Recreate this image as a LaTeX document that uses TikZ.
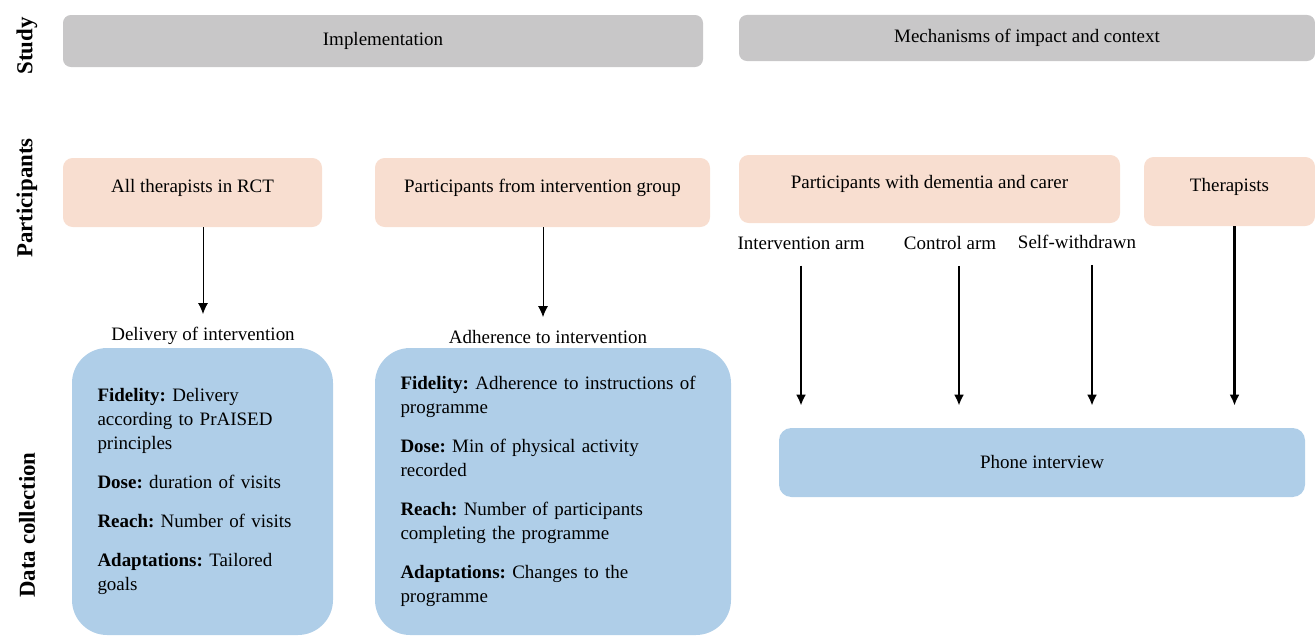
\documentclass[tikz,border=0pt]{standalone}
\usepackage{fontspec}
\setmainfont{Liberation Serif}
\usepackage{tikz}
\usetikzlibrary{arrows.meta, calc, positioning}
\definecolor{studygray}{RGB}{200,199,200}
\definecolor{partpeach}{RGB}{248,222,208}
\definecolor{datablue}{RGB}{175,206,232}
\frenchspacing
\tikzset{every node/.style={font=\fontsize{10.8}{13.6}\selectfont}}
\tikzset{rowlabel/.style={rotate=90, font=\fontsize{13}{15}\selectfont\bfseries}}
\tikzset{studybox/.style={rectangle, fill=studygray, rounded corners=4.5pt, minimum height=1.04cm}}
\tikzset{partbox/.style={rectangle, fill=partpeach, rounded corners=5.5pt, minimum height=1.38cm, text height=0.27cm, text depth=0.28cm}}
\tikzset{databox/.style={rectangle, fill=datablue, rounded corners=20pt, align=left, minimum height=5.74cm, inner xsep=0.51cm}}
\tikzset{phonebox/.style={rectangle, fill=datablue, rounded corners=7pt, minimum height=1.38cm}}
\tikzset{thinarrow/.style={line width=0.55pt, -{Latex[length=0.22cm,width=0.2cm]}, shorten >=0.14cm}}
\tikzset{thickarrow/.style={line width=1.35pt, -{Latex[length=0.22cm,width=0.2cm]}}}

\begin{document}
\begin{tikzpicture}
\useasboundingbox (0,0) rectangle (26.3,-12.7);

\node [rowlabel] (rs) at (0.54,-0.92) {Study};
\node [rowlabel] (rp) at (0.54,-3.96) {Participants};
\node [rowlabel] (rd) at (0.54,-10.5) {Data collection};

\node [studybox, minimum width=12.8cm] (impl) at (7.66,-0.82) {Implementation};
\node [studybox,
minimum width=11.52cm,
minimum height=0.92cm] (mech) at (20.54,-0.76) {Mechanisms of impact and context};

\node [partbox, minimum width=5.18cm] (allth) at (3.85,-3.85) {All therapists in RCT};
\node [partbox, minimum width=6.7cm] (pig) at (10.85,-3.85) {Participants from intervention group};
\node [partbox,
minimum width=7.62cm,
minimum height=1.36cm] (pdc) at (18.59,-3.78) {Participants with dementia and carer};
\node [partbox, minimum width=3.42cm] (ther) at (24.59,-3.83) {Therapists};

\node [] (deliv) at (4.06,-6.72) {Delivery of intervention};
\node [] (adher) at (10.96,-6.74) {Adherence to intervention};

\node [databox, text width=4.2cm] (dbox) at (4.05,-9.83) {\textbf{Fidelity:} Delivery\\
according to PrAISED\\
principles\\[0.3cm]
\textbf{Dose:} duration of visits\\[0.3cm]
\textbf{Reach:} Number of visits\\[0.3cm]
\textbf{Adaptations:} Tailored\\
goals};

\node [databox, text width=6.1cm] (abox) at (11.06,-9.83) {\textbf{Fidelity:} Adherence to instructions of\\
programme\\[0.3cm]
\textbf{Dose:} Min of physical activity\\
recorded\\[0.3cm]
\textbf{Reach:} Number of participants\\
completing the programme\\[0.3cm]
\textbf{Adaptations:} Changes to the\\
programme};

\node [] (iarm) at (16.02,-4.86) {Intervention arm};
\node [] (carm) at (19.0,-4.86) {Control arm};
\node [] (swd) at (21.54,-4.84) {Self-withdrawn};

\node [phonebox, minimum width=10.52cm] (phone) at (20.84,-9.25) {Phone interview};

\draw [thinarrow] (allth.south -| deliv.north) -- (deliv.north);
\draw [thinarrow] ([xshift=-0.1cm]pig.south -| adher.north) -- ([xshift=-0.1cm]adher.north);

\draw [thickarrow, shorten <=0.2cm, shorten >=0.44cm] (iarm.south) -- (iarm.south |- phone.north);
\draw [thickarrow, shorten <=0.2cm, shorten >=0.44cm] ([xshift=0.18cm]carm.south) -- ([xshift=0.18cm]carm.south |- phone.north);
\draw [thickarrow, shorten <=0.2cm, shorten >=0.44cm] ([xshift=0.3cm]swd.south) -- ([xshift=0.3cm]swd.south |- phone.north);
\draw [thickarrow, shorten >=0.44cm] ([xshift=0.1cm]ther.south) -- ([xshift=0.1cm]ther.south |- phone.north);

\end{tikzpicture}
\end{document}
